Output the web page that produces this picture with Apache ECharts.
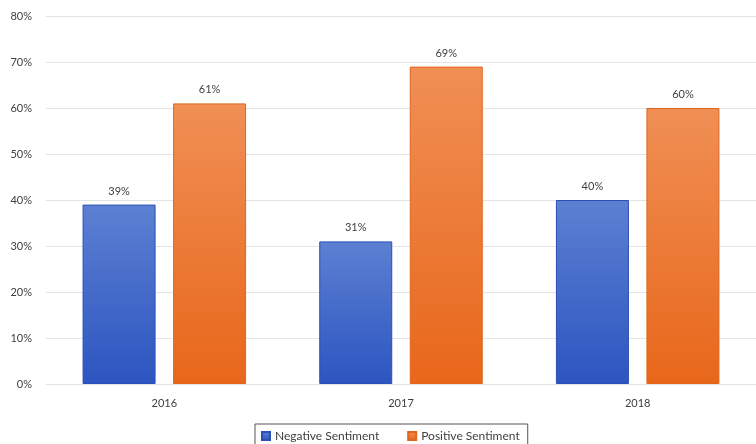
<!DOCTYPE html>
<html><head><meta charset="utf-8">
<script src="https://cdn.jsdelivr.net/npm/echarts@6/dist/echarts.min.js"></script>
<style>html,body{margin:0;padding:0;background:#fff}#c{width:756px;height:444px}</style>
</head><body><div id="c"></div>
<script>
const categories = ['2016', '2017', '2018'];
const negative = [39, 31, 40];
const positive = [61, 69, 60];
const yTicks = [0, 10, 20, 30, 40, 50, 60, 70, 80];

const chart = echarts.init(document.getElementById('c'));
const grad = (top, bottom) => new echarts.graphic.LinearGradient(0, 0, 0, 1, [{offset: 0, color: top}, {offset: 1, color: bottom}]);
const font = 'Lato, "Open Sans", sans-serif';
chart.setOption({
  animation: false,
  color: ['#3a63c6', '#ec7a30'],
  grid: {left: 46, right: -6, top: 16, bottom: 60},
  legend: {
    bottom: -6, left: 255,
    itemWidth: 8, itemHeight: 8, itemGap: 28,
    borderColor: '#555', borderWidth: 1, padding: [6, 8, 8, 6],
    textStyle: {color: '#404040', fontSize: 12, fontFamily: font},
    data: [{name: 'Negative Sentiment', icon: 'rect'}, {name: 'Positive Sentiment', icon: 'rect'}]
  },
  xAxis: {
    type: 'category', data: categories,
    axisLine: {show: false}, axisTick: {show: false},
    axisLabel: {color: '#404040', fontSize: 11, fontFamily: font, margin: 14}
  },
  yAxis: {
    type: 'value', min: yTicks[0], max: yTicks[yTicks.length - 1], interval: 10,
    axisLabel: {formatter: '{value}%', color: '#404040', fontSize: 11, fontFamily: font, margin: 14},
    splitLine: {lineStyle: {color: '#e4e4e4'}}
  },
  series: [
    {name: 'Negative Sentiment', type: 'bar', data: negative, barWidth: 73, barGap: '24%',
     itemStyle: {color: grad('#5c80d2', '#2c55c0'), borderColor: '#2a4fb5', borderWidth: 1},
     label: {show: true, position: 'top', formatter: '{c}%', color: '#404040', fontSize: 11, fontFamily: font, distance: 8}},
    {name: 'Positive Sentiment', type: 'bar', data: positive, barWidth: 73,
     itemStyle: {color: grad('#f08f55', '#e8671a'), borderColor: '#e0661c', borderWidth: 1},
     label: {show: true, position: 'top', formatter: '{c}%', color: '#404040', fontSize: 11, fontFamily: font, distance: 8}}
  ]
});
</script></body></html>
